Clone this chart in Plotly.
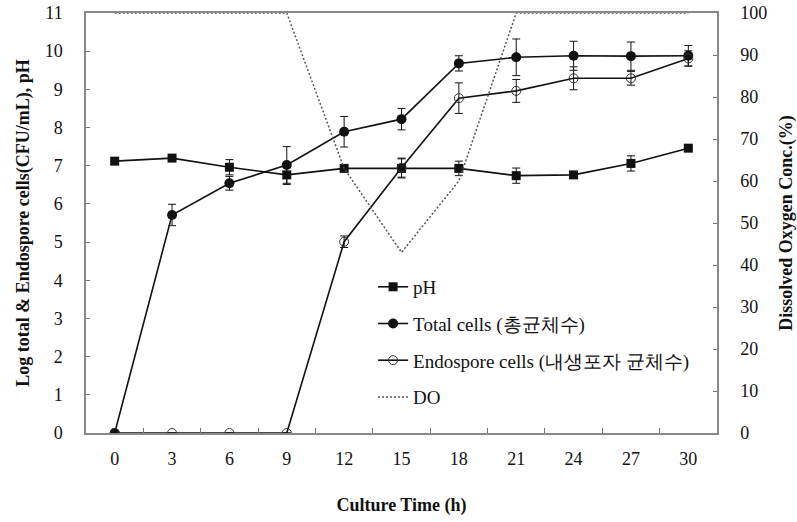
import plotly.graph_objects as go

time_h = ["0", "3", "6", "9", "12", "15", "18", "21", "24", "27", "30"]
ph = [7.12, 7.20, 6.96, 6.76, 6.93, 6.93, 6.93, 6.74, 6.76, 7.06, 7.46]
ph_err = [0, 0, 0.2, 0.25, 0, 0.25, 0.19, 0.2, 0, 0.2, 0]
total = [0, 5.71, 6.54, 7.02, 7.89, 8.22, 9.68, 9.84, 9.88, 9.87, 9.88]
total_err = [0, 0.28, 0.18, 0.48, 0.4, 0.28, 0.2, 0.48, 0.38, 0.37, 0.27]
endo = [0, 0, 0, 0, 5.01, 6.95, 8.77, 8.96, 9.29, 9.29, 9.81]
endo_err = [0, 0, 0, 0, 0.15, 0.25, 0.4, 0.3, 0.3, 0.18, 0.2]
do = [100, 100, 100, 100, 63, 43, 60, 100, 100, 100, 100]

SERIF = "Liberation Serif"
BLACK = "#111111"

fig = go.Figure()
fig.add_trace(go.Scatter(
    x=time_h, y=do, name="DO", yaxis="y2", mode="lines",
    line=dict(color="#555555", width=1.5, dash="2px,2px"),
    legendgroup="d", legendrank=4))
fig.add_trace(go.Scatter(
    x=time_h, y=ph, name="pH", mode="lines+markers",
    line=dict(color=BLACK, width=1.6),
    marker=dict(symbol="square", size=9, color=BLACK),
    error_y=dict(type="data", array=ph_err, color=BLACK, thickness=1, width=4),
    legendgroup="a", legendrank=1))
fig.add_trace(go.Scatter(
    x=time_h, y=total, name="Total cells (총균체수)", mode="lines+markers",
    line=dict(color=BLACK, width=1.6),
    marker=dict(symbol="circle", size=10, color=BLACK),
    error_y=dict(type="data", array=total_err, color=BLACK, thickness=1, width=4),
    legendgroup="b", legendrank=2))
fig.add_trace(go.Scatter(
    x=time_h, y=endo, name="Endospore cells (내생포자 균체수)", mode="lines+markers",
    line=dict(color=BLACK, width=1.6),
    marker=dict(symbol="circle-open", size=9, color="#333333", line=dict(width=1)),
    error_y=dict(type="data", array=endo_err, color=BLACK, thickness=1, width=4),
    legendgroup="c", legendrank=3))

axis_font = dict(family=SERIF, size=18, color="#111111")
title_font = dict(family=SERIF, size=18, color="#111111", weight="bold")

fig.update_layout(
    width=797, height=522,
    margin=dict(l=86, r=80, t=13, b=89, autoexpand=False),
    paper_bgcolor="white", plot_bgcolor="white",
    font=dict(family=SERIF, size=17, color="#111111"),
    showlegend=True,
    legend=dict(x=0.455, y=0.393, xanchor="left", yanchor="top",
                bgcolor="rgba(0,0,0,0)", itemwidth=30, tracegroupgap=9,
                font=dict(family=SERIF, size=19, color="#111111")),
    xaxis=dict(type="category", range=[-0.5, 10.5], tickson="boundaries",
               ticks="inside", ticklen=5, tickcolor="#777777", automargin=False,
               showline=True, linecolor="#888888", linewidth=1.5, mirror=True,
               showgrid=False, zeroline=False, tickfont=axis_font,
               ticklabelstandoff=9,
               title=dict(text="Culture Time (h)", font=title_font, standoff=30)),
    yaxis=dict(range=[0, 11], dtick=1, ticks="inside", ticklen=4, automargin=False,
               tickcolor="#777777", showline=True, linecolor="#888888",
               linewidth=1.5, showgrid=False, zeroline=False, tickfont=axis_font,
               ticklabelstandoff=18,
               title=dict(text="Log total & Endospore cells(CFU/mL), pH",
                          font=title_font, standoff=10)),
    yaxis2=dict(range=[0, 100], dtick=10, overlaying="y", side="right",
                ticks="inside", ticklen=4, tickcolor="#777777", automargin=False,
                showline=True, linecolor="#888888", linewidth=1.5,
                showgrid=False, zeroline=False, tickfont=axis_font,
                ticklabelstandoff=18,
                title=dict(text="Dissolved Oxygen Conc.(%)", font=title_font,
                           standoff=18)),
)

fig.write_html("out.html")
